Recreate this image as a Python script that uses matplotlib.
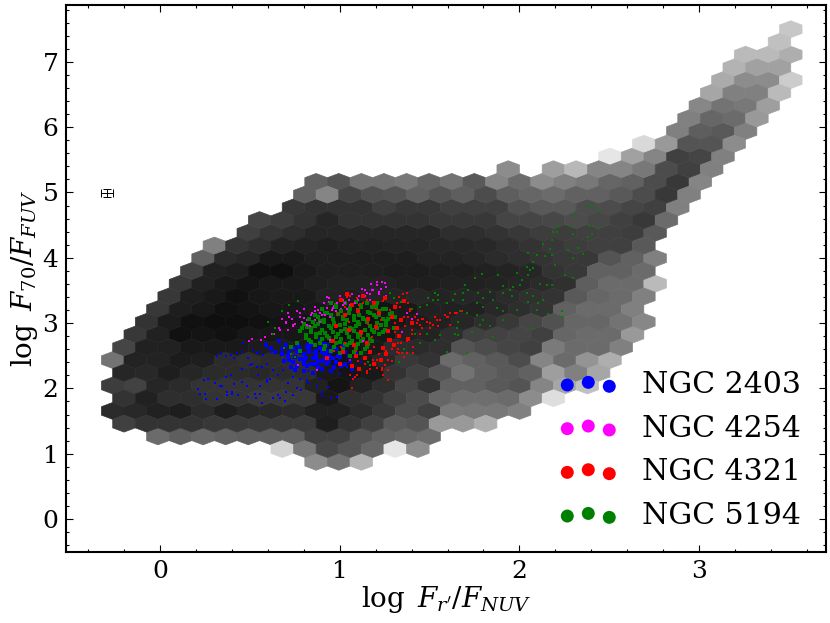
import numpy as np
import matplotlib
matplotlib.use('Agg')
import matplotlib.pyplot as plt

plt.rcParams['font.family'] = 'DejaVu Serif'
plt.rcParams['mathtext.fontset'] = 'dejavuserif'

# Grey level (percent) of each hexagon, row by row from the top of the plot.
# row_start is the column of the first cell in the row, None is an empty cell.
row_start = [30, 29, 28, 27, 27, 26, 26, 25, 25, 23, 22, 17, 9, 8, 8, 6, 6, 4,
             4, 3, 3, 2, 2, 1, 1, 0, 0, 0, 0, 0, 0, 0, 2, 7, 9]
row_gray = [
    [78],
    [75],
    [73, 73, 68],
    [70, 63, 63],
    [67, 55, 55, 80],
    [65, 50, 50, 73],
    [53, 45, 47, 62],
    [50, 40, 42, 60],
    [50, 37, 35, 50],
    [85, 60, 33, 33, 55],
    [90, 63, 52, 25, 27, 50],
    [55, None, 62, 72, 52, 52, 47, 30, 25, 50],
    [38, 33, 45, 45, 47, 40, 45, 35, 52, 42, 55, 50, 47, 40, 38, 30, 22, 52],
    [38, 52, 27, 32, 33, 38, 33, 37, 30, 37, 40, 42, 38, 38, 35, 30, 22, 50],
    [22, 20, 20, 20, 25, 22, 22, 25, 25, 25, 32, 35, 35, 30, 30, 27, 25, 50],
    [27, 24, 20, 15, 20, 20, 20, 20, 22, 22, 22, 27, 27, 28, 30, 28, 25, 22, 42],
    [25, 21, 18, 15, 15, 15, 15, 15, 15, 18, 18, 20, 22, 24, 24, 25, 25, 24, 35],
    [50, 21, 18, 14, 13, 12, 13, 13, 14, 14, 15, 15, 16, 18, 20, 22, 24, 25, 25, 35],
    [38, 17, 15, 10, 10, 12, 12, 12, 12, 12, 14, 14, 15, 17, 18, 20, 22, 22, 33, 38, 50],
    [26, 13, 12, 7, 6, 10, 12, 12, 12, 11, 11, 12, 12, 13, 14, 15, 20, 22, 38, 38, 42],
    [22, 13, 10, 8, 10, 10, 12, 13, 13, 13, 12, 12, 13, 13, 14, 15, 17, 19, 37, 42, 42, 73],
    [22, 12, 10, 7, 9, 10, 10, 13, 12, 14, 14, 15, 14, 15, 15, 17, 19, 20, 35, 40, 42, 50],
    [22, 12, 10, 7, 8, 9, 9, 10, 10, 8, 8, 10, 13, 13, 13, 16, 18, 20, 38, 42, 42, 50],
    [20, 11, 7, 6, 6, 7, 8, 8, 7, 6, 6, 9, 11, 13, 15, 18, 22, 27, 32, 40, 40, 45, 53],
    [22, 13, 7, 8, 7, 9, 9, 9, 8, 6, 7, 9, 13, 14, 18, 25, 26, 27, 25, 40, 42, 42, 60],
    [27, 13, 13, 10, 10, 10, 11, 11, 10, 7, 7, 10, 17, 17, 18, 33, 30, 27, 25, 48, 42, 42, 50],
    [45, 14, 14, 11, 12, 17, 18, 17, 17, 12, 7, 10, 15, 22, 20, 42, 38, 35, 30, 52, 42, 58, 68],
    [15, 16, 12, 15, 17, 17, 16, 17, 17, 10, 8, 10, 20, 25, 33, 45, 38, 35, 38, 62, 50, 65],
    [24, 26, 15, 17, 20, 20, 20, 20, 20, 13, 8, 13, 18, 27, 20, 38, 38, 35, 33, 52, 65, 75],
    [20, 13, 18, 18, 20, 20, 22, 22, 22, 10, 18, 20, 25, 30, 40, 43, 43, 42, 55, 87],
    [17, 16, 13, 12, 17, 12, 15, 16, 17, 13, 13, 17, 22, 30, 25, 48, 47, 47, 50],
    [25, 20, 20, 20, 22, 22, 23, 23, 23, 12, 20, 25, 35, 33, 60, 60, 68],
    [42, 37, 40, 38, 37, 37, 37, 25, 25, 33, 38, 40, 42],
    [83, 47, 28, 33, 40, 90, 55],
    [55, 45, 70],
]

labels = ['NGC 2403', 'NGC 4254', 'NGC 4321', 'NGC 5194']
colors = ['blue', 'magenta', 'red', 'green']

# scattered points
blue_x = [.213, .245, .222, .25, .256, .315, .265, .308, .334, .347, .367, .393, .371, .371, .399, .399,
          .412, .436, .458, .486, .488, .529, .532, .556, .566, .556, .594, .631, .655, .668, .697, .699,
          .742, .764, .783, .825, .872, .903, .90, .95, .983, .937, .315, .337, .367, .393, .414, .427,
          .454, .464, .491, .519, .51, .538, .556, .575, .594, .616, .454, .50, .538, .566, .547, .594,
          .612, .631, .658, .686, .723, .714, .742, .779, .816, .825, .853, .89, 1.0, 1.04, 1.08, 1.12]
blue_y = [1.99, 2.13, 1.91, 1.92, 1.84, 1.83, 2.14, 2.08, 2.04, 2.04, 2.17, 2.20, 1.95, 1.90, 1.95, 1.91,
          2.07, 1.90, 2.10, 2.04, 1.87, 1.92, 1.85, 1.92, 1.77, 2.04, 2.10, 1.86, 1.90, 1.85, 1.81, 1.95,
          1.90, 2.00, 1.98, 2.08, 2.03, 1.94, 1.88, 1.85, 1.87, 2.02, 2.49, 2.53, 2.50, 2.51, 2.46, 2.54,
          2.56, 2.69, 2.46, 2.59, 2.38, 2.54, 2.56, 2.51, 2.38, 2.56, 2.29, 2.36, 2.33, 2.33, 2.21, 2.13,
          2.15, 2.28, 2.21, 2.28, 2.31, 2.08, 2.18, 2.15, 2.13, 2.26, 2.23, 2.15, 2.22, 2.32, 2.18, 2.41]
blue_core_x = [.72, .75, .78, .80, .83, .86, .89, .92, .95, .98, .74, .77, .80, .84, .87, .90, .93, .96,
               1.0, 1.03, .70, .76, .82, .85, .88, .91, .94, .97, 1.02, 1.06, .79, .83, .86, .90, .93,
               .66, .62, .68, .59, 1.09,
               .68, .71, .74, .77, .81, .84, .87, .91, .94, .99, 1.03, .72, .76, .80, .83, .88, .92, .96, 1.01, 1.05,
               .64, .69, .73, .78, .82, .87, .93, .98, 1.07, .80, .85, .90, .95, .75, .83, .89]
blue_core_y = [2.55, 2.48, 2.60, 2.42, 2.55, 2.38, 2.62, 2.45, 2.55, 2.40, 2.40, 2.66, 2.52, 2.68, 2.47,
               2.55, 2.38, 2.62, 2.48, 2.56, 2.66, 2.35, 2.34, 2.47, 2.32, 2.68, 2.50, 2.33, 2.65, 2.42,
               2.45, 2.60, 2.56, 2.42, 2.58, 2.72, 2.62, 2.52, 2.66, 2.52,
               2.6, 2.5, 2.62, 2.55, 2.47, 2.38, 2.52, 2.6, 2.42, 2.5, 2.38, 2.44, 2.58, 2.38, 2.62, 2.42, 2.52, 2.47, 2.34, 2.5,
               2.56, 2.42, 2.33, 2.45, 2.64, 2.58, 2.66, 2.6, 2.3, 2.27, 2.24, 2.3, 2.26, 2.28, 2.7, 2.72]

magenta_x = [.495, .514, .56, .584, .621, .634, .668, .714, .742, .714, .733, .779, .788, .816, .844, .863,
             .89, .89, .927, .918, .955, .983, .835, .77, .872, .946, 1.209, 1.233, 1.252, 1.172, 1.187,
             1.228, 1.126, 1.15, 1.109, 1.085, 1.03, 1.02, .965, 1.373, 1.40, 1.428, 1.345, 1.131, .946]
magenta_y = [2.73, 2.76, 2.74, 2.78, 2.84, 2.84, 2.90, 2.89, 2.97, 3.15, 3.07, 3.15, 3.02, 2.97, 3.16, 3.18,
             3.15, 3.02, 3.23, 3.12, 3.20, 3.30, 2.95, 2.36, 2.28, 2.74, 3.63, 3.63, 3.61, 3.60, 3.51,
             3.52, 3.52, 3.46, 3.41, 3.30, 3.30, 3.28, 3.23, 3.15, 3.07, 3.14, 2.87, 2.72, 3.10]
magenta_core_x = [.80, .84, .88, .93, .97, 1.01, 1.05, 1.09, 1.14, 1.18, 1.22, 1.26, .86, .91, .99, 1.07,
                  1.12, 1.17, 1.21, .75, .70, .94,
                  .66, .70, .74, .78, .82, .86, .90, .94, .98, 1.02, 1.06, 1.10, 1.14, 1.17, 1.22, 1.26,
                  .72, .80, .86, .93, 1.0, 1.04, .68, .76]
magenta_core_y = [3.08, 3.13, 3.20, 3.16, 3.26, 3.22, 3.36, 3.30, 3.42, 3.50, 3.44, 3.55, 3.05, 3.30, 3.12,
                  3.44, 3.28, 3.36, 3.58, 2.98, 3.00, 3.38,
                  2.92, 3.02, 2.95, 3.1, 3.05, 3.25, 3.12, 3.32, 3.18, 3.35, 3.27, 3.35, 3.5, 3.44, 3.48, 3.42,
                  3.1, 3.22, 3.18, 3.4, 3.42, 3.22, 3.06, 3.18]

red_x = [1.066, 1.15, 1.205, 1.233, 1.239, 1.27, 1.27, 1.075, 1.094, 1.409, 1.372, 1.344, 1.317, 1.326, 1.372,
         1.446, 1.40, 1.521, 1.558, 1.604, 1.65, 1.53, 1.465, 1.428, 1.382, 1.335, 1.363, 1.307, 1.27, 1.502,
         1.548, 1.586, 1.613, 1.484, 1.446, 1.373, 1.35, 1.382, 1.317, 1.391, 1.438, 1.456, 1.502, 1.54, 1.595,
         1.642, 1.679, 1.614, 1.373, 1.326, 1.271, 1.234, 1.15, 1.187, 1.104, 1.057, 1.085, 1.131, 1.039, 1.094,
         1.06, 1.15, 1.24, 1.33, 1.39, 1.28, 1.2, 1.11, 1.03, .99, 1.36, 1.42, 1.46, 1.31, 1.23, 1.16, 1.05, 1.18,
         1.27, 1.34, 1.41, 1.12, 1.22, 1.29, 1.36, 1.01, 1.09, 1.19, 1.26, 1.33, 1.06, 1.14, 1.21, 1.29, 1.1, 1.17,
         1.25, .97, 1.03, 1.4]
red_y = [2.00, 2.26, 2.31, 2.28, 2.20, 2.13, 2.43, 2.15, 2.20, 2.54, 2.54, 2.54, 2.56, 2.69, 2.72,
         2.84, 2.84, 2.97, 3.05, 3.10, 3.15, 3.10, 3.07, 3.00, 3.10, 3.25, 2.95, 2.87, 2.72, 2.92,
         2.95, 3.12, 2.97, 3.02, 2.97, 3.46, 3.45, 3.30, 3.30, 3.18, 3.05, 3.07, 3.00, 3.05, 3.10,
         3.15, 3.18, 3.15, 2.72, 2.61, 2.28, 2.31, 2.23, 2.43, 2.28, 2.20, 2.18, 3.30, 3.40, 3.38,
         3.42, 3.36, 3.34, 3.40, 3.22, 3.2, 3.22, 3.28, 3.24, 3.14, 3.1, 3.1, 2.92, 3.0, 3.04, 2.98, 3.02, 2.78,
         2.76, 2.7, 2.64, 2.8, 2.52, 2.6, 2.48, 2.64, 2.58, 2.64, 2.58, 2.54, 2.44, 2.38, 2.44, 2.42, 2.42, 2.3,
         2.36, 2.58, 2.7, 2.9]
red_core_x = [1.01, 1.07, 1.13, 1.19, 1.25, 1.31, 1.36, 1.03, 1.10, 1.16, 1.22, 1.29, 1.34, 1.40, .98, 1.05,
              1.12, 1.20, 1.27, 1.33, .96, 1.08, 1.15, 1.24, 1.30, 1.02, 1.09, 1.17, 1.23, 1.00, 1.07, 1.14,
              1.26, 1.32, 1.11, 1.19, 1.28, 1.38, .93, 1.04]
red_core_y = [3.36, 3.28, 3.42, 3.30, 3.38, 3.24, 3.34, 3.12, 3.18, 3.06, 3.16, 3.10, 3.04, 3.00, 2.96, 2.90,
              2.86, 2.94, 2.88, 2.80, 2.72, 2.66, 2.70, 2.62, 2.66, 2.56, 2.50, 2.56, 2.44, 2.38, 2.34, 2.46,
              2.52, 2.92, 2.30, 2.38, 2.74, 2.76, 2.46, 3.44]

green_x = [2.383, 2.402, 2.439, 2.309, 2.216, 2.281, 2.389, 2.43, 2.188, 2.207, 2.30, 2.383, 2.402, 2.179, 2.133,
           2.17, 2.272, 2.328, 2.049, 2.096, 2.142, 2.179, 2.30, 2.355, 2.077, 2.198, 2.04, 2.059, 2.077, 2.049,
           1.984, 2.253, 1.79, 1.753, 1.882, 2.012, 2.003, 2.114, 2.151, 2.179, 2.30, 1.697, 1.91, 1.966, 1.947,
           1.836, 1.771, 1.715, 1.688, 1.641, 1.53, 1.549, 1.493, 1.521, 1.549, 1.632, 1.595, 1.688, 1.762, 1.799,
           1.855, 1.91, 1.957, 2.04, 2.077, 2.133, 2.049, 2.105, 1.446, 1.484, 1.799, 1.873, 1.91, 1.984, 2.096,
           2.161, 2.235, 2.235, 1.669, 1.706, 1.762, 1.66, 1.65, 1.799, 1.78, 1.734, 1.836, 1.855, 1.91, 2.068,
           1.484, 1.641, 1.66, 1.53, 1.595, 1.706, 1.446, 1.419, 1.558, 1.66, 1.16, 1.17, .60, .64, .68, .72,
           .75, .78, .69, .73, .63, .77, 1.33, 1.36, 1.40, 1.30, 1.34, 1.28]
green_y = [4.81, 4.78, 4.73, 4.67, 4.48, 4.48, 4.49, 4.45, 4.40, 4.39, 4.36, 4.32, 4.37, 4.27, 4.21,
           4.13, 4.12, 4.15, 4.08, 4.04, 4.03, 4.04, 3.99, 4.06, 3.94, 3.89, 3.86, 3.81, 3.84, 3.74,
           3.77, 3.74, 3.75, 3.69, 3.74, 3.66, 3.58, 3.60, 3.58, 3.58, 3.69, 3.58, 3.57, 3.56, 3.51,
           3.48, 3.46, 3.51, 3.46, 3.45, 3.46, 3.43, 3.38, 3.35, 3.35, 3.35, 3.30, 3.35, 3.30, 3.38,
           3.35, 3.46, 3.41, 3.46, 3.41, 3.35, 3.33, 3.30, 3.25, 3.28, 3.25, 3.23, 3.18, 3.20, 3.20,
           3.14, 3.18, 3.10, 3.18, 3.15, 3.12, 3.02, 2.92, 3.05, 2.97, 2.87, 2.95, 2.79, 3.05, 2.92,
           2.84, 2.83, 2.82, 2.74, 2.56, 2.54, 2.69, 2.84, 2.82, 2.82, 2.41, 2.36, 3.02, 2.92, 3.18, 3.28,
           2.48, 2.56, 2.62, 2.52, 2.84, 3.34, 2.40, 2.60, 3.22, 3.38, 3.32, 3.46]
green_core_x = [.98, 1.06, 1.12, 1.20, 1.24, .92, 1.01, 1.05, 1.10, 1.16, 1.22, 1.29, .88, .95, 1.02, 1.08,
                1.13, 1.19, 1.24, 1.31, .85, .91, .97, 1.04, 1.10, 1.15, 1.21, 1.26, .82, .88, .94, 1.00,
                1.06, 1.11, 1.17, 1.23, 1.30, .84, .90, .96, 1.03, 1.08, 1.14, 1.19, 1.25, .81, .87, .93,
                .99, 1.05, 1.10, 1.16, 1.22, .83, .90, .95, 1.01, 1.07, 1.13, 1.18, .86, .92, .98, 1.04,
                1.10, 1.15, .95, 1.02, 1.08, 1.14, .76, .79, .73, .78,
                .95, 1.03, 1.09, 1.15, 1.21, .90, .98, 1.06, 1.12, 1.18, 1.26, .86, .93, .99, 1.05, 1.11, 1.17,
                1.22, 1.28, .83, .89, .96, 1.02, 1.08, 1.13, 1.20, 1.27, .80, .86, .91, .97, 1.03, 1.09, 1.15,
                1.21, 1.26, .78, .84, .89, .95, 1.01, 1.07, 1.12, 1.18, 1.24, .81, .87, .92, .98, 1.04, 1.10,
                1.17, .84, .89, .94, 1.0, 1.06, 1.12, .91, .97, 1.03, 1.09, 1.16, 1.0, 1.06, 1.12]
green_core_y = [3.27, 3.23, 3.28, 3.25, 3.22, 3.16, 3.19, 3.15, 3.20, 3.17, 3.18, 3.15, 3.09, 3.12, 3.07, 3.11,
                3.08, 3.12, 3.06, 3.09, 3.02, 3.05, 3.00, 3.04, 3.01, 3.05, 3.00, 3.03, 2.94, 2.98, 2.95, 2.97,
                2.93, 2.98, 2.95, 2.97, 2.93, 2.87, 2.90, 2.86, 2.91, 2.88, 2.90, 2.86, 2.90, 2.81, 2.84, 2.80,
                2.83, 2.79, 2.84, 2.81, 2.83, 2.74, 2.76, 2.72, 2.75, 2.73, 2.76, 2.72, 2.67, 2.65, 2.69, 2.66,
                2.68, 2.64, 2.58, 2.61, 2.56, 2.60, 2.70, 2.92, 2.64, 2.58,
                3.31, 3.3, 3.33, 3.31, 3.3, 3.22, 3.24, 3.22, 3.25, 3.24, 3.22, 3.13, 3.16, 3.14, 3.17, 3.13, 3.15,
                3.13, 3.14, 3.06, 3.03, 3.07, 3.09, 3.05, 3.06, 3.09, 3.07, 2.99, 2.96, 3.01, 2.98, 2.99, 2.95, 3.01,
                2.93, 2.97, 2.88, 2.92, 2.85, 2.93, 2.88, 2.91, 2.85, 2.9, 2.87, 2.77, 2.79, 2.85, 2.78, 2.85, 2.79,
                2.76, 2.71, 2.7, 2.77, 2.71, 2.69, 2.72, 2.6, 2.64, 2.68, 2.62, 2.68, 2.54, 2.5, 2.54]

# typical error of a point
err_x = [-0.295]
err_y = [4.99]
err_xerr = [0.035]
err_yerr = [0.06]

# build the hexagon list from the rows
hex_x = []
hex_y = []
hex_c = []
for k in range(len(row_gray)):
    for j, g in enumerate(row_gray[k]):
        if g is None:
            continue
        col = row_start[k] + j
        hex_y.append(7.499 - 0.1948 * k)
        if k % 2 == 0:
            hex_x.append(-0.2632 + 0.12577 * col)
        else:
            hex_x.append(-0.2003 + 0.12577 * col)
        hex_c.append(g)

fig = plt.figure(figsize=(8.3, 6.23), dpi=100)
ax = fig.add_axes([66 / 830, 71 / 623, 760 / 830, 547 / 623])

ax.hexbin(hex_x, hex_y, C=hex_c, gridsize=(30, 17), extent=(-0.2632, 3.51, 0.8758, 7.499),
          cmap='gray', vmin=0, vmax=100, linewidths=0.45, zorder=1)

# dense middle of each cloud, drawn with bigger marks
ax.scatter(blue_core_x, blue_core_y, s=6, marker='s', c='blue', linewidths=0, zorder=2)
ax.scatter(magenta_core_x, magenta_core_y, s=4, marker='s', c='magenta', linewidths=0, zorder=2.1)
ax.scatter(green_core_x, green_core_y, s=9, marker='s', c='green', linewidths=0, zorder=2.2)

ax.scatter(blue_x, blue_y, s=2.2, marker='s', c='blue', linewidths=0, zorder=3)
ax.scatter(magenta_x, magenta_y, s=3, marker='s', c='magenta', linewidths=0, zorder=3.1)
ax.scatter(green_x, green_y, s=2.2, marker='s', c='green', linewidths=0, zorder=3.2)
ax.scatter(red_core_x, red_core_y, s=5, marker='s', c='red', linewidths=0, zorder=4)
ax.scatter(red_x, red_y, s=4, marker='s', c='red', linewidths=0, zorder=4)

ax.errorbar(err_x, err_y, xerr=err_xerr, yerr=err_yerr, color='k', lw=0.7, capsize=3, capthick=0.7, zorder=3)

handles = [ax.scatter([], [], s=87, c=c, linewidths=0) for c in colors]
ax.legend(handles, labels, loc='lower right', bbox_to_anchor=(1.003, -0.009), frameon=False,
          fontsize=21.6, scatterpoints=3, labelspacing=0.523)

ax.set_xlim(-0.523, 3.706)
ax.set_ylim(-0.505, 7.87)
ax.set_xticks([0, 1, 2, 3])
ax.set_yticks([0, 1, 2, 3, 4, 5, 6, 7])
ax.set_xticks(np.arange(-0.4, 3.7, 0.2), minor=True)
ax.set_yticks(np.arange(-0.4, 7.9, 0.2), minor=True)
ax.tick_params(which='both', direction='in', top=True, right=True, width=0.8)
ax.tick_params(which='major', length=5, labelsize=18, pad=5.5)
ax.tick_params(which='minor', length=2.5)
for s in ax.spines.values():
    s.set_linewidth(1.5)

ax.set_xlabel(r'$\log\ F_{r^{\prime}}/F_{NUV}$', fontsize=20, labelpad=1)
ax.set_ylabel(r'$\log\ F_{70}/F_{FUV}$', fontsize=20, labelpad=2)

plt.savefig('out.png', dpi=100)
